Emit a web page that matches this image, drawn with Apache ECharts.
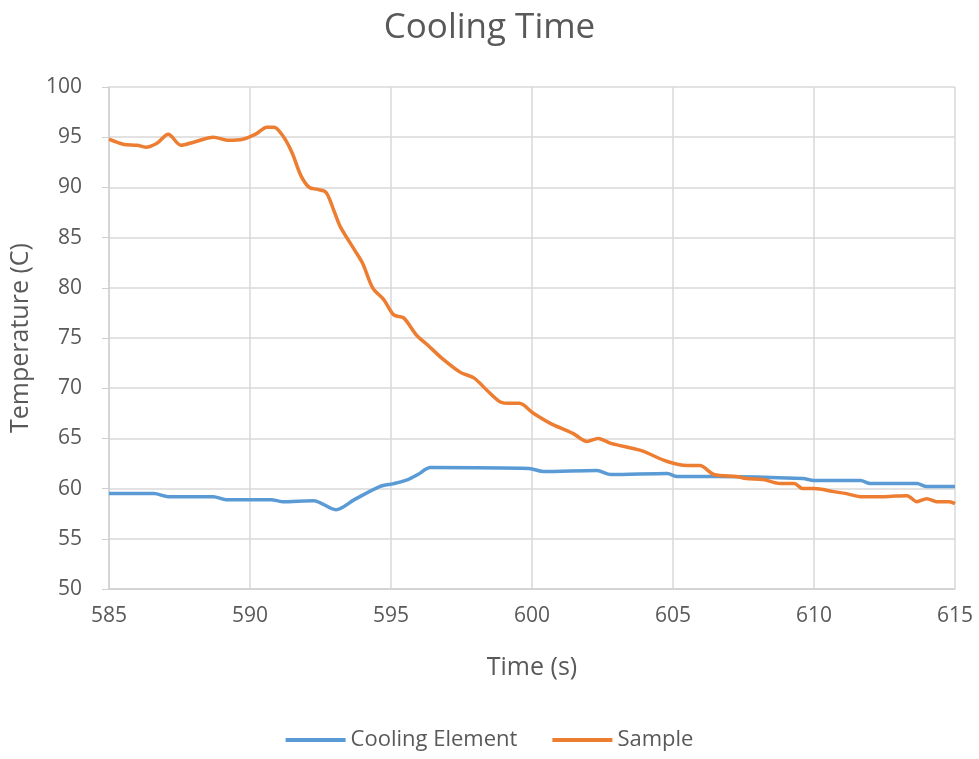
<!DOCTYPE html>
<html>
<head>
<meta charset="utf-8">
<script src="https://cdn.jsdelivr.net/npm/echarts@6/dist/echarts.min.js"></script>
<style>html,body{margin:0;padding:0;background:#fff}#c{width:979px;height:759px}</style>
</head>
<body>
<div id="c"></div>
<script>
var sampleTime = [585.0,585.5,586.0,586.3,586.7,587.1,587.55,588.0,588.7,589.2,589.75,590.2,590.6,590.85,591.2,591.5,591.8,592.1,592.4,592.7,593.0,593.2,593.7,594.0,594.35,594.75,595.1,595.45,595.9,596.3,596.8,597.45,597.95,598.4,598.9,599.2,599.55,600.05,600.65,601.45,601.95,602.35,602.8,603.85,604.8,605.5,605.95,606.45,607.25,607.6,608.2,608.8,609.3,609.6,610.0,610.7,611.15,611.65,612.5,613.3,613.65,614.0,614.35,614.8,615.0];
var sampleTemp = [94.8,94.3,94.2,94.0,94.4,95.3,94.2,94.5,95.0,94.7,94.8,95.3,96.0,96.0,95.0,93.4,91.2,90.0,89.8,89.5,87.5,86.1,83.8,82.4,80.0,78.8,77.3,77.0,75.3,74.3,73.0,71.6,71.0,69.8,68.6,68.5,68.5,67.5,66.5,65.5,64.7,65.0,64.5,63.8,62.7,62.3,62.3,61.4,61.2,61.0,60.9,60.5,60.5,60.0,60.0,59.7,59.5,59.2,59.2,59.3,58.7,59.0,58.7,58.7,58.5];
var coolTime = [585.0,586.6,587.1,588.7,589.15,590.75,591.15,592.25,593.05,593.7,594.6,595.1,595.6,595.95,596.4,599.9,600.4,602.3,602.8,604.8,605.15,606.55,609.6,610.0,611.65,612.0,613.65,614.0,615.0];
var coolTemp = [59.5,59.5,59.2,59.2,58.9,58.9,58.7,58.8,57.9,58.9,60.2,60.5,60.9,61.4,62.1,62.0,61.7,61.8,61.4,61.5,61.2,61.2,61.0,60.8,60.8,60.5,60.5,60.2,60.2];
var seriesNames = ['Cooling Element','Sample'];
var xTicks = {min:585,max:615,step:5};
var yTicks = {min:50,max:100,step:5};

function pairs(a,b){return a.map(function(v,i){return [v,b[i]];});}
var font = 'Open Sans, Lato, sans-serif';
var chart = echarts.init(document.getElementById('c'));
chart.setOption({
  animation:false,
  title:{text:'Cooling Time',left:'center',top:6,textStyle:{fontFamily:font,fontSize:35,fontWeight:'normal',color:'#595959'}},
  grid:{left:108,right:24,top:87,bottom:170},
  legend:{bottom:3,left:'center',itemWidth:60,itemHeight:4,itemGap:35,icon:'rect',
    textStyle:{fontFamily:font,fontSize:22,color:'#595959'},data:seriesNames},
  xAxis:{type:'value',min:xTicks.min,max:xTicks.max,interval:xTicks.step,
    name:'Time (s)',nameLocation:'middle',nameGap:66,
    nameTextStyle:{fontFamily:font,fontSize:25,color:'#595959'},
    axisLine:{show:true,lineStyle:{color:'#d0d0d0',width:1.5}},
    axisTick:{show:false},
    axisLabel:{fontFamily:font,fontSize:21,color:'#595959',margin:17},
    splitLine:{show:true,lineStyle:{color:'#d9d9d9',width:1.5}}},
  yAxis:{type:'value',min:yTicks.min,max:yTicks.max,interval:yTicks.step,
    name:'Temperature (C)',nameLocation:'middle',nameGap:76,nameRotate:90,
    nameTextStyle:{fontFamily:font,fontSize:25,color:'#595959'},
    axisLine:{show:true,lineStyle:{color:'#d0d0d0',width:1.5}},
    axisTick:{show:true,length:7,inside:false,lineStyle:{color:'#d0d0d0'}},
    axisLabel:{fontFamily:font,fontSize:21,color:'#595959',margin:27},
    splitLine:{show:true,lineStyle:{color:'#d9d9d9',width:1.5}}},
  series:[
    {name:seriesNames[0],type:'line',smooth:0.3,showSymbol:false,data:pairs(coolTime,coolTemp),
     itemStyle:{color:'#5B9BD5'},lineStyle:{color:'#5B9BD5',width:3.5}},
    {name:seriesNames[1],type:'line',smooth:0.3,showSymbol:false,data:pairs(sampleTime,sampleTemp),
     itemStyle:{color:'#ED7D31'},lineStyle:{color:'#ED7D31',width:3.5}}
  ]
});
</script>
</body>
</html>
